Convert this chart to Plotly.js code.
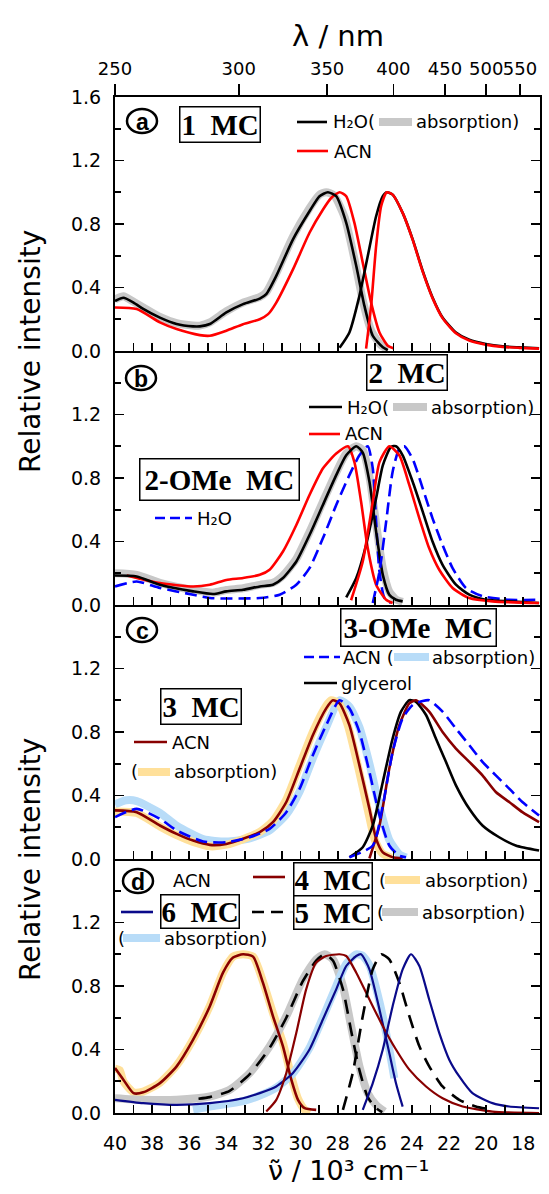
<!DOCTYPE html>
<html>
<head>
<meta charset="utf-8">
<script src="https://cdn.plot.ly/plotly-3.0.1.min.js"></script>
<style>html,body{margin:0;padding:0;background:#fff;}#chart{width:549px;height:1194px;}</style>
</head>
<body>
<div id="chart"></div>
<script>
// ---------------- DATA (wavenumber in 10^3 cm^-1, relative intensity) ----------------
// Panel (a) 1 MC
const a_h2oAbsX = [40.0,39.55,39.0,38.48,37.58,36.68,35.8,35.43,34.89,34.0,33.1,32.2,31.85,31.31,30.41,29.52,28.98,28.53,28.08,27.54,27.0,26.56,26.11,25.57,25.3];
const a_h2oAbsY = [0.315,0.335,0.305,0.265,0.21,0.17,0.155,0.155,0.17,0.243,0.295,0.33,0.358,0.473,0.703,0.88,0.975,1.0,0.975,0.807,0.535,0.284,0.096,0.023,0.005];
const a_absGrayX = [40.0,39.55,39.0,38.48,37.58,36.68,35.8,35.43,34.89,34.0,33.1,32.2,31.85,31.31,30.41,29.52,28.98,28.62,28.2,27.62,27.1,26.65,26.2,25.7,25.3];
const a_absGrayY = [0.325,0.345,0.31,0.275,0.215,0.175,0.16,0.16,0.18,0.25,0.305,0.34,0.37,0.49,0.72,0.9,0.985,1.0,0.98,0.84,0.58,0.32,0.13,0.04,0.01];
const a_acnAbsX = [40.0,38.83,37.58,36.68,35.43,34.89,34.0,33.1,32.2,31.75,31.31,30.41,29.52,28.8,28.35,27.9,27.54,27.1,26.65,26.2,25.75,25.3,25.0];
const a_acnAbsY = [0.274,0.264,0.18,0.138,0.10,0.096,0.128,0.169,0.20,0.232,0.305,0.514,0.745,0.89,0.964,1.0,0.975,0.807,0.556,0.305,0.117,0.033,0.017];
const a_h2oEmX = [27.9,27.37,26.83,26.38,25.93,25.57,25.36,25.04,24.5,23.96,23.42,22.89,22.35,21.63,20.91,20.02,19.12,18.23,17.15];
const a_h2oEmY = [0.02,0.117,0.347,0.598,0.849,0.975,1.0,0.985,0.87,0.703,0.504,0.337,0.211,0.117,0.071,0.044,0.029,0.023,0.017];
const a_acnEmX = [26.47,26.2,25.93,25.66,25.36,25.04,24.5,23.96,23.42,22.89,22.35,21.63,20.91,20.02,19.12,18.23,17.15];
const a_acnEmY = [0.015,0.284,0.661,0.912,1.0,0.985,0.87,0.70,0.50,0.333,0.207,0.112,0.066,0.04,0.026,0.02,0.015];

// Panel (b) 2 MC and 2-OMe MC
const b_h2oAbsX = [40.0,38.83,37.58,35.79,34.71,34.0,33.1,32.2,31.49,30.95,30.23,29.52,28.8,28.08,27.54,27.0,26.65,26.29,25.93,25.57,25.22,24.86,24.5];
const b_h2oAbsY = [0.186,0.18,0.128,0.086,0.069,0.086,0.096,0.117,0.128,0.17,0.274,0.441,0.63,0.818,0.943,1.0,0.96,0.776,0.462,0.19,0.065,0.033,0.023];
const b_absGrayX = [40.0,38.83,37.58,35.79,34.71,34.0,33.1,32.2,31.49,30.95,30.23,29.52,28.8,28.08,27.54,27.0,26.65,26.29,25.93,25.57,25.22,24.86,24.5];
const b_absGrayY = [0.2,0.19,0.14,0.095,0.078,0.095,0.105,0.127,0.14,0.185,0.29,0.46,0.65,0.835,0.955,1.0,0.975,0.81,0.51,0.23,0.085,0.035,0.02];
const b_acnAbsX = [39.37,37.58,35.79,34.89,34.0,33.1,32.2,31.67,30.95,30.23,29.52,28.8,28.08,27.45,27.1,26.74,26.38,25.93,25.39,25.04];
const b_acnAbsY = [0.186,0.138,0.117,0.128,0.158,0.17,0.19,0.222,0.337,0.504,0.693,0.86,0.954,1.0,0.9,0.65,0.357,0.128,0.033,0.013];
const b_omeAbsX = [40.0,38.83,37.58,35.79,34.89,32.2,31.13,30.23,29.52,28.8,28.08,27.37,26.83,26.38,26.11,25.93,25.75,25.48,25.13];
const b_omeAbsY = [0.117,0.148,0.107,0.065,0.044,0.044,0.065,0.128,0.232,0.42,0.63,0.818,0.943,1.0,0.86,0.525,0.21,0.044,0.013];
const b_h2oEmX = [27.54,27.0,26.47,25.93,25.57,25.13,24.86,24.5,23.96,23.42,22.89,22.35,21.63,20.91,20.02,18.76,17.15];
const b_h2oEmY = [0.048,0.17,0.378,0.672,0.88,0.996,1.0,0.943,0.776,0.588,0.4,0.253,0.128,0.065,0.033,0.023,0.013];
const b_acnEmX = [27.28,26.65,26.11,25.75,25.22,24.68,24.14,23.6,23.07,22.53,21.81,20.91,19.66,17.15];
const b_acnEmY = [0.03,0.274,0.65,0.9,1.0,0.943,0.755,0.546,0.357,0.222,0.107,0.044,0.023,0.013];
const b_omeEmX = [26.11,25.75,25.39,25.04,24.68,24.41,23.96,23.42,22.89,22.35,21.81,21.09,20.2,18.76,17.15];
const b_omeEmY = [0.013,0.21,0.525,0.84,0.985,1.0,0.92,0.735,0.546,0.378,0.232,0.107,0.055,0.033,0.033];

// Panel (c) 3 MC and 3-OMe MC
const c_3mcAbsX = [40.0,38.83,37.58,36.68,35.79,34.89,34.0,33.1,32.2,31.49,30.77,30.05,29.34,28.62,28.26,27.9,27.37,26.83,26.29,25.93,25.57,25.04,24.5];
const c_3mcAbsY = [0.306,0.295,0.211,0.158,0.116,0.089,0.095,0.127,0.169,0.232,0.359,0.57,0.78,0.949,1.0,0.98,0.843,0.59,0.316,0.127,0.042,0.011,0.004];
const c_absYellowX = [40.0,38.83,37.58,36.68,35.79,34.89,34.0,33.1,32.2,31.49,30.77,30.05,29.34,28.62,28.35,27.95,27.45,26.9,26.38,26.0,25.6,25.1];
const c_absYellowY = [0.3,0.29,0.205,0.15,0.108,0.08,0.09,0.125,0.17,0.24,0.375,0.59,0.8,0.965,1.0,0.98,0.84,0.58,0.31,0.12,0.035,0.008];
const c_omeAbsX = [40.0,38.83,37.58,36.68,35.25,34.0,32.74,31.67,30.77,30.05,29.34,28.62,27.9,27.37,26.83,26.29,25.75,25.22,24.68,24.32];
const c_omeAbsY = [0.264,0.316,0.253,0.18,0.11,0.106,0.137,0.19,0.295,0.443,0.654,0.843,1.0,0.949,0.8,0.548,0.274,0.085,0.021,0.011];
const c_absBlueX = [40.0,39.4,38.83,37.58,36.68,35.25,34.0,32.74,31.67,30.77,30.05,29.34,28.62,27.9,27.37,26.83,26.29,25.75,25.22,24.68,24.3];
const c_absBlueY = [0.345,0.37,0.365,0.29,0.21,0.125,0.11,0.13,0.18,0.28,0.425,0.635,0.83,1.0,0.96,0.83,0.6,0.33,0.12,0.03,0.01];
const c_glyEmX = [27.37,26.65,26.11,25.57,25.04,24.59,24.14,23.78,23.24,22.71,22.17,21.63,20.91,20.2,19.3,18.41,17.15];
const c_glyEmY = [0.011,0.074,0.211,0.485,0.759,0.928,1.0,0.99,0.907,0.759,0.612,0.464,0.316,0.211,0.137,0.085,0.053];
const c_3mcEmX = [26.29,25.75,25.22,24.68,24.14,23.78,23.07,22.35,21.63,20.91,20.2,19.48,18.76,18.05,17.15];
const c_3mcEmY = [0.004,0.211,0.57,0.843,0.98,1.0,0.928,0.8,0.696,0.612,0.527,0.422,0.359,0.295,0.232];
const c_omeEmX = [27.37,26.11,25.57,25.04,24.5,23.96,23.42,23.07,22.35,21.63,20.91,20.2,19.48,18.76,18.05,17.15];
const c_omeEmY = [0.011,0.085,0.337,0.675,0.886,0.97,0.995,1.0,0.928,0.822,0.717,0.612,0.527,0.443,0.359,0.274];

// Panel (d) 4 MC, 5 MC, 6 MC in ACN
const d_4mcAbsX = [40.0,39.55,39.0,38.48,37.58,36.68,35.79,34.89,34.18,33.64,33.1,32.56,32.03,31.49,30.95,30.5,30.14,29.78,29.16];
const d_4mcAbsY = [0.283,0.21,0.125,0.13,0.188,0.294,0.462,0.673,0.884,0.979,1.0,0.985,0.821,0.61,0.42,0.21,0.083,0.03,0.02];
const d_absYellowX = [40.0,39.75,39.55,39.0,38.48,37.58,36.68,35.79,34.89,34.18,33.64,33.1,32.56,32.03,31.49,30.95,30.5,30.14,29.78,29.5];
const d_absYellowY = [0.28,0.27,0.2,0.13,0.135,0.19,0.3,0.465,0.675,0.885,0.985,1.0,0.985,0.83,0.63,0.44,0.23,0.09,0.02,0.0];
const d_absGrayX = [40.0,38.48,36.68,34.89,33.82,32.74,31.67,30.77,29.88,29.16,28.71,28.26,27.72,27.28,26.83,26.38,25.93,25.48];
const d_absGrayY = [0.093,0.083,0.083,0.104,0.146,0.252,0.42,0.61,0.842,0.968,1.0,0.968,0.8,0.547,0.294,0.125,0.051,0.009];
const d_5mcAbsX = [35.5,34.89,33.82,32.74,31.67,30.77,29.88,29.16,28.71,28.26,27.72,27.28,26.83,26.38,25.93,25.6];
const d_5mcAbsY = [0.09,0.1,0.14,0.245,0.41,0.6,0.83,0.96,1.0,0.96,0.78,0.52,0.27,0.1,0.03,0.005];
const d_5mcEmX = [27.72,27.19,26.65,26.11,25.66,25.22,24.68,24.14,23.6,23.07,22.35,21.45,20.56,19.66];
const d_5mcEmY = [0.02,0.252,0.61,0.905,1.0,0.968,0.821,0.61,0.42,0.294,0.167,0.083,0.041,0.02];
const d_4mcEmX = [31.85,31.31,30.77,30.23,29.7,29.16,28.62,27.9,27.54,27.0,26.29,25.57,24.86,24.14,23.24,22.35,21.27,19.66,17.15];
const d_4mcEmY = [0.009,0.083,0.252,0.505,0.779,0.947,0.989,1.0,0.989,0.884,0.715,0.547,0.4,0.273,0.167,0.093,0.041,0.009,0.0];
const d_6mcAbsX = [40.0,38.48,36.68,34.89,33.1,32.2,31.31,30.41,29.52,28.8,28.08,27.54,27.0,26.74,26.29,25.75,25.22,24.86,24.5];
const d_6mcAbsY = [0.083,0.062,0.051,0.062,0.093,0.125,0.167,0.252,0.4,0.589,0.779,0.926,0.989,1.0,0.905,0.652,0.378,0.188,0.04];
const d_absBlueX = [35.79,34.89,33.1,32.2,31.31,30.41,29.52,28.8,28.08,27.54,27.0,26.65,26.29,25.75,25.22,24.95];
const d_absBlueY = [0.02,0.04,0.075,0.11,0.16,0.25,0.41,0.6,0.8,0.94,1.0,0.99,0.93,0.7,0.4,0.22];
const d_6mcEmX = [26.65,26.11,25.57,25.04,24.5,24.05,23.6,23.07,22.53,21.99,21.45,20.74,19.66,18.76,17.15];
const d_6mcEmY = [0.02,0.188,0.4,0.673,0.905,1.0,0.926,0.715,0.505,0.336,0.23,0.125,0.062,0.041,0.03];

// Axis ticks / labels
const xRange = [40, 17.1];
const topNmLabels = [250, 300, 350, 400, 450, 500, 550];
const yTickValsTop = [0, 0.4, 0.8, 1.2, 1.6];
const yTickTextTop = ['0.0', '0.4', '0.8', '1.2', '1.6'];
const yTickValsOther = [0, 0.4, 0.8, 1.2];
const yTickTextOther = ['0.0', '0.4', '0.8', '1.2'];

// ---------------- STYLE ----------------
const SANS = 'DejaVu Sans';
const SERIF = 'Liberation Serif';
const C = {
  black: '#000000', red: '#ff0000', blue: '#0000ff', maroon: '#880000', navy: '#0a0a8a',
  gray: '#c8c8c8', yellow: '#ffe09a', lblue: '#b8dcf8'
};
const L = 115, R = 540, T = 97, B = 1113;
const W = R - L, H = B - T;
const px = X => (X - L) / W;
const py = Y => (B - Y) / H;

function line(x, y, ax, color, width, dash) {
  return {type: 'scatter', mode: 'lines', x: x, y: y, xaxis: ax[0], yaxis: ax[1],
    line: {color: color, width: width, dash: dash || 'solid', shape: 'spline', smoothing: 0.6},
    hoverinfo: 'skip', showlegend: false};
}
const UW = 8; // underlay width
const LW = 2.6;
const pA = ['x4', 'y'], pB = ['x3', 'y2'], pC = ['x2', 'y3'], pD = ['x', 'y4'];
const DASH_B = '12px,6px';
const DASH_K = '14px,9px';

const traces = [
  // (a)
  line(a_absGrayX, a_absGrayY, pA, C.gray, UW),
  line(a_acnAbsX, a_acnAbsY, pA, C.red, LW),
  line(a_h2oAbsX, a_h2oAbsY, pA, C.black, LW),
  line(a_h2oEmX, a_h2oEmY, pA, C.black, LW),
  line(a_acnEmX, a_acnEmY, pA, C.red, LW),
  // (b)
  line(b_absGrayX, b_absGrayY, pB, C.gray, UW),
  line(b_omeAbsX, b_omeAbsY, pB, C.blue, LW, DASH_B),
  line(b_acnAbsX, b_acnAbsY, pB, C.red, LW),
  line(b_h2oAbsX, b_h2oAbsY, pB, C.black, LW),
  line(b_omeEmX, b_omeEmY, pB, C.blue, LW, DASH_B),
  line(b_h2oEmX, b_h2oEmY, pB, C.black, LW),
  line(b_acnEmX, b_acnEmY, pB, C.red, LW),
  // (c)
  line(c_absBlueX, c_absBlueY, pC, C.lblue, UW),
  line(c_absYellowX, c_absYellowY, pC, C.yellow, UW),
  line(c_3mcAbsX, c_3mcAbsY, pC, C.maroon, LW),
  line(c_omeAbsX, c_omeAbsY, pC, C.blue, LW, DASH_B),
  line(c_glyEmX, c_glyEmY, pC, C.black, LW),
  line(c_3mcEmX, c_3mcEmY, pC, C.maroon, LW),
  line(c_omeEmX, c_omeEmY, pC, C.blue, LW, DASH_B),
  // (d)
  line(d_absYellowX, d_absYellowY, pD, C.yellow, UW),
  line(d_absGrayX, d_absGrayY, pD, C.gray, UW),
  line(d_absBlueX, d_absBlueY, pD, C.lblue, UW),
  line(d_4mcAbsX, d_4mcAbsY, pD, C.maroon, LW),
  line(d_6mcAbsX, d_6mcAbsY, pD, C.navy, 2.2),
  line(d_5mcAbsX, d_5mcAbsY, pD, C.black, LW, DASH_K),
  line(d_4mcEmX, d_4mcEmY, pD, C.maroon, 2.2),
  line(d_5mcEmX, d_5mcEmY, pD, C.black, LW, DASH_K),
  line(d_6mcEmX, d_6mcEmY, pD, C.navy, 2.2),
  // carrier for the top wavelength axis (no points)
  {type: 'scatter', mode: 'lines', x: [], y: [], xaxis: 'x5', yaxis: 'y', showlegend: false, hoverinfo: 'skip'}
];

const tickFont = {family: SANS, size: 19, color: '#000'};
function xAx(anchor, labels) {
  const ax = {range: xRange, anchor: anchor,
    showline: true, linewidth: 2, linecolor: '#000', mirror: false,
    ticks: 'inside', ticklen: 8, tickwidth: 1.6, tickcolor: '#000', dtick: 2, tick0: 0, tickangle: 0,
    minor: {dtick: 1, tick0: 0, ticks: 'inside', ticklen: 8, tickwidth: 1.6, tickcolor: '#000'},
    showticklabels: labels, tickfont: tickFont, ticklabelstandoff: 12,
    showgrid: false, zeroline: false};
  if (anchor !== 'y4') ax.matches = 'x';
  return ax;
}
function yAx(domain, anchor, top) {
  return {domain: domain, anchor: anchor, range: [0, 1.6],
    showline: true, linewidth: 2, linecolor: '#000', mirror: 'ticks',
    ticks: 'inside', ticklen: 9, tickwidth: 1.6, tickcolor: '#000',
    tickmode: 'array', tickvals: top ? yTickValsTop : yTickValsOther, ticktext: top ? yTickTextTop : yTickTextOther,
    minor: {dtick: 0.2, tick0: 0, ticks: 'inside', ticklen: 6, tickwidth: 1.6, tickcolor: '#000'},
    tickfont: tickFont, ticklabelstandoff: 8,
    showgrid: false, zeroline: false};
}

const layout = {
  width: 549, height: 1194,
  margin: {l: L, r: 549 - R, t: T, b: 1194 - B, pad: 0},
  paper_bgcolor: '#fff', plot_bgcolor: 'rgba(0,0,0,0)',
  showlegend: false,
  xaxis: xAx('y4', true),
  xaxis2: xAx('y3', false),
  xaxis3: xAx('y2', false),
  xaxis4: xAx('y', false),
  xaxis5: {range: xRange, overlaying: 'x4', anchor: 'y', side: 'top',
    tickmode: 'array', tickvals: topNmLabels.map(nm => 1e4 / nm), ticktext: topNmLabels.map(String),
    ticks: 'outside', ticklen: 11, tickwidth: 1.6, tickcolor: '#000', tickangle: 0,
    showline: true, linewidth: 2, linecolor: '#000', tickfont: {family: SANS, size: 18, color: '#000'},
    ticklabelstandoff: 2, showgrid: false, zeroline: false},
  yaxis: yAx([0.75, 1], 'x4', true),
  yaxis2: yAx([0.5, 0.75], 'x3', false),
  yaxis3: yAx([0.25, 0.5], 'x2', false),
  yaxis4: yAx([0, 0.25], 'x', false),
  shapes: [],
  annotations: []
};

const A = layout.annotations, S = layout.shapes;
function txt(text, X, Y, opts) {
  const o = Object.assign({size: 18, family: SANS, xanchor: 'left'}, opts || {});
  A.push({text: text, xref: 'paper', yref: 'paper', x: px(X), y: py(Y), xanchor: o.xanchor, yanchor: 'middle',
    showarrow: false, font: {family: o.family, size: o.size, color: '#000'}, textangle: o.angle || 0});
}
function box(text, cX, cY, size, pad) {
  A.push({text: '<b>' + text + '</b>', xref: 'paper', yref: 'paper', x: px(cX), y: py(cY),
    xanchor: 'center', yanchor: 'middle', showarrow: false,
    font: {family: SERIF, size: size, color: '#000'},
    bordercolor: '#000', borderwidth: 1.5, borderpad: pad, bgcolor: '#fff'});
}
function seg(X0, X1, Y, color, width, dash) {
  S.push({type: 'line', xref: 'paper', yref: 'paper', x0: px(X0), x1: px(X1), y0: py(Y), y1: py(Y),
    line: {color: color, width: width, dash: dash || 'solid'}});
}
function circ(letter, cX, cY) {
  S.push({type: 'circle', xref: 'paper', yref: 'paper', x0: px(cX - 15), x1: px(cX + 15), y0: py(cY + 12), y1: py(cY - 12),
    line: {color: '#000', width: 2.5}});
  A.push({text: '<b>' + letter + '</b>', xref: 'paper', yref: 'paper', x: px(cX), y: py(cY + 1),
    xanchor: 'center', yanchor: 'middle', showarrow: false, font: {family: 'Liberation Sans', size: 23, color: '#000'}});
}
const NB = '\u00a0\u00a0';
const H2O = 'H\u2082O';

// axis titles
txt('λ / nm', 338, 36, {size: 29, xanchor: 'center'});
txt('ν\u0303 / 10\u00b3 cm\u207b\u00b9', 348, 1170, {size: 27, xanchor: 'center'});
txt('Relative intensity', 30, 352, {size: 28, xanchor: 'center', angle: -90});
txt('Relative intensity', 30, 860, {size: 28, xanchor: 'center', angle: -90});

// (a)
circ('a', 142, 121);
box('1' + NB + 'MC', 220, 125, 29, 1);
seg(297, 327, 122, C.black, LW);
txt(H2O + '(', 331, 122);
seg(379, 412, 122, C.gray, 8);
txt('absorption)', 414, 122);
seg(297, 328, 151, C.red, LW);
txt('ACN', 332, 151);

// (b)
circ('b', 141, 378);
box('2' + NB + 'MC', 407, 373, 29, 1);
seg(309, 342, 407, C.black, LW);
txt(H2O + '(', 345, 407);
seg(393, 427, 407, C.gray, 8);
txt('absorption)', 429, 407);
seg(309, 340, 434, C.red, LW);
txt('ACN', 343, 434);
box('2-OMe' + NB + 'MC', 219.5, 479, 29, 4);
seg(155, 192, 518, C.blue, LW, '10px,5px');
txt(H2O, 195, 518);

// (c)
circ('c', 142, 630);
box('3-OMe' + NB + 'MC', 418.5, 627.5, 29, 2);
seg(304, 340, 657, C.blue, LW, '10px,5px');
txt('ACN (', 341, 657);
seg(394, 429, 657, C.lblue, 8);
txt('absorption)', 430, 657);
seg(304, 337, 683, C.black, LW);
txt('glycerol', 339, 683);
box('3' + NB + 'MC', 201, 706, 29, 1);
seg(134, 167, 742, C.maroon, LW);
txt('ACN', 170, 742);
txt('(', 129, 772);
seg(138, 170, 772, C.yellow, 8);
txt('absorption)', 172, 772);

// (d)
circ('d', 138, 881);
txt('ACN', 171, 880);
seg(253, 285, 877, C.maroon, LW);
box('4' + NB + 'MC', 333, 879, 29, 0);
txt('(', 377, 880);
seg(385, 420, 880, C.yellow, 8);
txt('absorption)', 423, 880);
seg(121, 153, 912, C.navy, LW);
box('6' + NB + 'MC', 199.5, 911, 29, 0);
seg(252, 287, 912, C.black, LW, '12px,7px');
box('5' + NB + 'MC', 333, 912, 29, 0);
txt('(', 375, 912);
seg(382, 418, 912, C.gray, 8);
txt('absorption)', 420, 912);
txt('(', 116, 938);
seg(123, 160, 938, C.lblue, 8);
txt('absorption)', 162, 938);

Plotly.newPlot('chart', traces, layout, {staticPlot: true, displayModeBar: false});
</script>
</body>
</html>
